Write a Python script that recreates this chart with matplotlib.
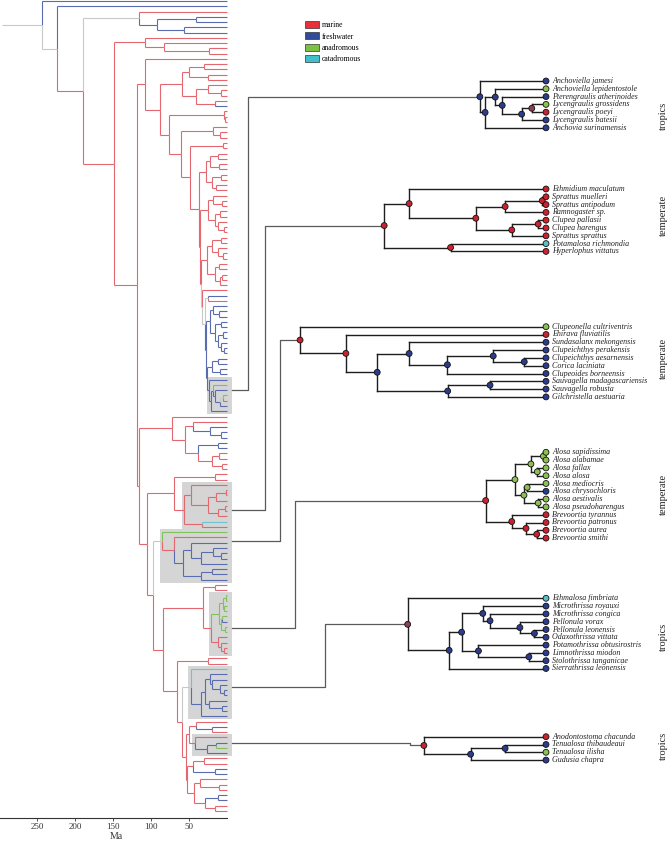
import copy
import matplotlib
matplotlib.use('Agg')
import matplotlib.pyplot as plt
from matplotlib.collections import LineCollection
from matplotlib.patches import Rectangle, Patch

plt.rcParams['font.family'] = ['Liberation Serif', 'DejaVu Serif']

# ---- data -------------------------------------------------------------
# trees as nested strings: tip = state letter, internal = (...)<state><age Ma>
# states: r marine, b freshwater, g anadromous, c catadromous, n unknown, m mixed
# @k grafts magnified clade k into the big tree (optional letter = stem state)
sub1_tree = "(b,((g,(b,((g,r)m4.9,b)b8.4)b15.1)b17.5,b)b21.0)b22.8"
sub1_names = ["Anchoviella jamesi", "Anchoviella lepidentostole", "Pterengraulis atherinoides",
              "Lycengraulis grossidens", "Lycengraulis poeyi", "Lycengraulis batesii",
              "Anchovia surinamensis"]

sub2_tree = "((r,(((r,r)r1.3,r)r14.1,((r,r)r2.7,r)r11.8)r24.2)r47.2,(c,r)r32.9)r55.8"
sub2_names = ["Ethmidium maculatum", "Sprattus muelleri", "Sprattus antipodum", "Ramnogaster sp.",
              "Clupea pallasii", "Clupea harengus", "Sprattus sprattus", "Potamalosa richmondia",
              "Hyperlophus vittatus"]

sub3_tree = "(g,(r,((b,((b,(b,b)b7.5)b18.2,b)b34.0)b47.2,((b,b)b19.3,b)b33.9)b58.2)r69.0)r84.8"
sub3_names = ["Clupeonella cultriventris", "Ehirava fluviatilis", "Sundasalanx mekongensis",
              "Clupeichthys perakensis", "Clupeichthys aesarnensis", "Corica laciniata",
              "Clupeoides borneensis", "Sauvagella madagascariensis", "Sauvagella robusta",
              "Gilchristella aestuaria"]

sub4_tree = "((((g,g)g0.9,(g,g)g3.0)g5.2,((g,b)g6.5,(g,g)g2.7)g7.6)g10.7,(r,(r,(r,r)r3.2)r6.9)r11.8)r20.8"
sub4_names = ["Alosa sapidissima", "Alosa alabamae", "Alosa fallax", "Alosa alosa",
              "Alosa mediocris", "Alosa chrysochloris", "Alosa aestivalis", "Alosa pseudoharengus",
              "Brevoortia tyrannus", "Brevoortia patronus", "Brevoortia aurea", "Brevoortia smithi"]

sub5_tree = "(c,(((b,(b,(b,(b,b)b4.0)b9.0)b19.3)b21.8,(b,(b,b)b5.9)b23.3)b29.1,b)b33.4)m47.7"
sub5_names = ["Ethmalosa fimbriata", "Microthrissa royauxi", "Microthrissa congica",
              "Pellonula vorax", "Pellonula leonensis", "Odaxothrissa vittata",
              "Potamothrissa obtusirostris", "Limnothrissa miodon", "Stolothrissa tanganicae",
              "Sierrathrissa leonensis"]

sub6_tree = "(r,((b,g)b14.1,b)b26.0)r42.1"
sub6_names = ["Anodontostoma chacunda", "Tenualosa thibaudeaui", "Tenualosa ilisha", "Gudusia chapra"]

regions = ["tropics", "temperate", "temperate", "temperate", "tropics", "tropics"]

# big tree, built from clades (top to bottom)
c2 = "(((r,r)r30,(r,r)r25)r50,((r,(r,r)r8)r25,(r,b)r15)r40)r59"
p1 = "(((r,r)r12,(r,r)r10)r22,((r,r)r8,(r,r)r14)r20)r27"
p2 = "((r,(r,r)r6)r18,((r,r)r9,(r,(r,r)r4)r11)r16)r24"
p3 = "(((r,r)r7,(r,(r,r)r5)r12)r20,((r,r)r10,((r,r)r6,r)r9)r15)r26"
q1 = "((b,(b,b)b10)b18,((b,b)b8,((b,b)b5,(b,(b,b)b3)b7)b12)b16)b22"
q2 = "((b,b)b12,(b,b)b9)b20"
blue = f"((b,r)n25,({q1},({q2},@1)b26)b27)n28.5"
n199 = f"({p1},({p2},({p3},(r,{blue})n32.5)r34)r35)r36"
c3 = f"((r,(r,r)r2)r4,((r,(r,r)r9)r18,((r,r)r5,{n199})r48)r60)r76"
clade_c = f"(r,({c2},{c3})r88)r108"
clade_d = "(r,((r,(b,(b,b)b8)b22)r45,((b,b)b12,((r,r)r10,(r,r)r6)r20)r38)r55)r72"
clade_e = "((r,r)r15,@2)r69.5"
clade_z = "(((r,r)r30,(b,b)b15)r45,((r,(r,r)r10)r35,((b,b)b12,(r,r)r15)r28)r43)r52"
clade_y = f"(((r,(b,r)b20)r40,@6)r50,{clade_z})r53.6"
n177 = f"((r,r)r24.6,(@5,{clade_y})r59)r65.5"
n163 = f"(((r,r)r16,@4)r31,{n177})r84"
n153 = f"(@3n,{n163})r97"
n147 = f"({clade_e},{n153})r105"
n139 = f"({clade_d},{n147})r115.6"
n137 = f"({clade_c},{n139})r118"
clade_b = "(r,(r,(r,r)r23)r83)r108"
rest = f"({clade_b},{n137})r148.6"
main_tree = f"(b,(b,((r,((b,b)b40,(b,b)b56)b92)n116,{rest})r189.5)n224)n243.6"

ma_ticks = [250, 200, 150, 100, 50]

# ---- styling / layout -------------------------------------------------
W, H = 668, 844
line_cols = {'r': '#e4666f', 'b': '#5a6cb0', 'g': '#80c25a', 'c': '#6cc3cc', 'n': '#c8c8c8', 'm': '#c8c8c8'}
dot_cols = {'r': '#cc2230', 'b': '#2d3b8c', 'g': '#8cc152', 'c': '#5bbfc9', 'n': '#999999', 'm': '#8a4050'}
sub_top_px = [81, 189, 326.7, 452.3, 598.3, 736.7]
tip_pitch = 7.8
elbow_px = [248, 265, 280, 295, 325, 410]
region_px = [116, 215, 358, 494, 637, 746]


def parse(s, grafts, i=0):
    ch = s[i]
    if ch == '(':
        kids = []
        i += 1
        while True:
            kid, i = parse(s, grafts, i)
            kids.append(kid)
            i += 1
            if s[i - 1] == ')':
                break
        col = s[i]
        j = i + 1
        while j < len(s) and (s[j].isdigit() or s[j] == '.'):
            j += 1
        return {'kids': kids, 'col': col, 'age': float(s[i + 1:j])}, j
    if ch == '@':
        k = int(s[i + 1])
        node = copy.deepcopy(grafts[k])
        node['box'] = k
        i += 2
        if i < len(s) and s[i].isalpha():
            node['col'] = s[i]
            i += 1
        return node, i
    return {'col': ch, 'age': 0.0}, i + 1


def tips(node):
    if 'kids' not in node:
        return [node]
    return sum((tips(k) for k in node['kids']), [])


def walk(node):
    yield node
    for k in node.get('kids', []):
        yield from walk(k)


def place(node, ys):
    if 'kids' in node:
        for k in node['kids']:
            place(k, ys)
        node['y'] = (node['kids'][0]['y'] + node['kids'][-1]['y']) / 2
    else:
        node['y'] = next(ys)


def edges(node, parent_age, out):
    out.append(([(parent_age, node['y']), (node['age'], node['y'])], node['col']))
    for k in node.get('kids', []):
        out.append(([(node['age'], node['y']), (node['age'], k['y'])], k['col']))
        edges(k, node['age'], out)


sub_strings = [sub1_tree, sub2_tree, sub3_tree, sub4_tree, sub5_tree, sub6_tree]
sub_names = [sub1_names, sub2_names, sub3_names, sub4_names, sub5_names, sub6_names]
subs = {k + 1: parse(s, {})[0] for k, s in enumerate(sub_strings)}
main_root = parse(main_tree, subs)[0]

fig = plt.figure(figsize=(W / 100, H / 100), dpi=100)

# ---- big tree ---------------------------------------------------------
n_tips = len(tips(main_root))
step = 810 / (n_tips - 1)
ax = fig.add_axes([0, 26 / H, 232 / W, 818 / H])
ax.set_xlim(299, -7)
ax.set_ylim(-1 / step + 818 / step, -1 / step)
place(main_root, iter(range(n_tips)))

segs = []
edges(main_root, 296, segs)
for c in line_cols:
    part = [s for s, col in segs if col == c]
    if part:
        ax.add_collection(LineCollection(part, colors=line_cols[c], linewidths=0.8, zorder=2))

boxes = [n for n in walk(main_root) if 'box' in n]
for n in boxes:
    ys = [t['y'] for t in tips(n)]
    ax.add_patch(Rectangle((-7, min(ys) - 0.6), n['age'] + 10, max(ys) - min(ys) + 1.2,
                           facecolor='#d5d5d5', edgecolor='none', zorder=1))

for side in ['left', 'top', 'right']:
    ax.spines[side].set_visible(False)
ax.spines['bottom'].set_bounds(299, 0)
ax.spines['bottom'].set_linewidth(0.8)
ax.spines['bottom'].set_color('#333333')
ax.set_yticks([])
ax.set_xticks(ma_ticks)
ax.tick_params(axis='x', length=2, width=0.6, pad=1.5, labelsize=6.5, colors='#333333')
ax.set_xlabel('Ma', fontsize=7, labelpad=1, color='#333333')
ax.patch.set_alpha(0)

# ---- magnified clades -------------------------------------------------
axs = fig.add_axes([0, 0, 1, 1])
axs.set_xlim(546 / 2.9, -(W - 546) / 2.9)
axs.set_ylim(H, 0)
axs.axis('off')
inv = axs.transData.inverted()


def px_to_age(px):
    return inv.transform((px, 0))[0]


for k in range(6):
    root = subs[k + 1]
    ys = iter([sub_top_px[k] + i * tip_pitch for i in range(len(sub_names[k]))])
    place(root, ys)
    segs = []
    edges(root, root['age'], segs)
    axs.add_collection(LineCollection([s for s, _ in segs], colors='#1e1e1e', linewidths=1.0,
                                      capstyle='projecting', zorder=2))
    nodes = list(walk(root))
    axs.scatter([n['age'] for n in nodes], [n['y'] for n in nodes],
                c=[dot_cols[n['col']] for n in nodes], s=18, edgecolors='#111111',
                linewidths=0.6, zorder=3)
    for t, name in zip(tips(root), sub_names[k]):
        axs.annotate(name, (0, t['y']), xytext=(4.3, 0), textcoords='offset points',
                     va='center', ha='left', fontsize=5.8, style='italic', color='#222222')
    axs.text(px_to_age(663), region_px[k], regions[k], rotation=90, ha='center', va='center',
             fontsize=7.5, color='#222222')

    # connector from the shaded clade to its magnified copy
    box = [n for n in boxes if n['box'] == k + 1][0]
    x0, y0 = inv.transform(ax.transData.transform((-7, box['y'])))
    xe = px_to_age(elbow_px[k])
    axs.plot([x0, xe, xe, root['age']], [y0, y0, root['y'], root['y']],
             color='#5a5a5a', lw=0.9, zorder=1)

# ---- legend -----------------------------------------------------------
handles = [Patch(facecolor=c, edgecolor='#333333', linewidth=0.5, label=l)
           for c, l in zip(['#e8303a', '#2f4b9e', '#7cc142', '#41c0cb'],
                           ['marine', 'freshwater', 'anadromous', 'catadromous'])]
fig.legend(handles=handles, loc='upper left', bbox_to_anchor=(305 / W, 1 - 21 / H),
           frameon=False, fontsize=5.5, handlelength=1.8, handleheight=1.0,
           labelspacing=0.45, handletextpad=0.35, borderpad=0, borderaxespad=0)

fig.savefig('out.png', dpi=100)
